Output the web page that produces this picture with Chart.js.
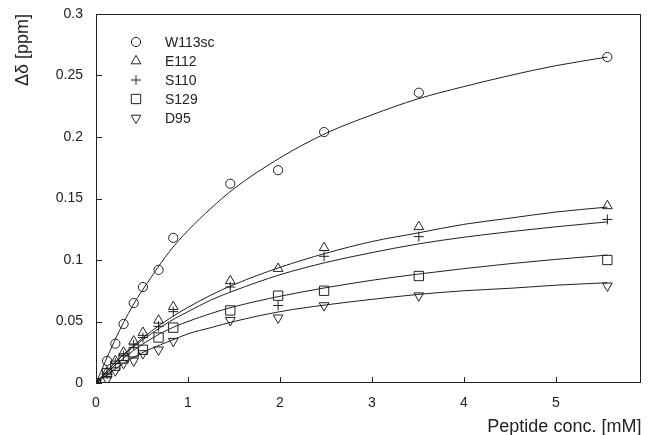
<!DOCTYPE html>
<html>
<head>
<meta charset="utf-8">
<script src="https://cdn.jsdelivr.net/npm/chart.js@4.4.0/dist/chart.umd.min.js"></script>
<style>
  html, body { margin: 0; padding: 0; background: #fff; }
  #wrap { width: 649px; height: 435px; }
</style>
</head>
<body>
<div id="wrap"><canvas id="titration" width="649" height="435"></canvas></div>
<script>
const peptideConc = [0, 0.12, 0.21, 0.30, 0.41, 0.51, 0.68, 0.84, 1.46, 1.98, 2.48, 3.51, 5.56];
const w113sc = [0, 0.018, 0.032, 0.048, 0.065, 0.078, 0.092, 0.118, 0.162, 0.173, 0.204, 0.236, 0.265];
const e112   = [0, 0.009, 0.018, 0.025, 0.034, 0.041, 0.051, 0.062, 0.083, 0.093, 0.110, 0.127, 0.144];
const s110   = [0, 0.008, 0.016, 0.022, 0.031, 0.037, 0.046, 0.058, 0.078, 0.063, 0.103, 0.119, 0.133];
const s129   = [0, 0.008, 0.014, 0.020, 0.025, 0.027, 0.037, 0.045, 0.059, 0.071, 0.075, 0.087, 0.100];
const d95    = [0, 0.003, 0.010, 0.016, 0.018, 0.024, 0.027, 0.034, 0.051, 0.053, 0.063, 0.071, 0.079];

// fitted curves
const fitConc = [0, 0.2, 0.4, 0.6, 0.8, 1.0, 1.25, 1.5, 2.0, 2.5, 3.0, 3.5, 4.0, 4.5, 5.0, 5.56];
const w113scFit = [0, 0.034, 0.063, 0.086, 0.107, 0.124, 0.142, 0.158, 0.183, 0.203, 0.218, 0.231, 0.241, 0.250, 0.258, 0.265];
const e112Fit   = [0, 0.016, 0.030, 0.042, 0.0525, 0.0615, 0.0715, 0.080, 0.094, 0.1055, 0.115, 0.122, 0.129, 0.134, 0.139, 0.143];
const s110Fit   = [0, 0.016, 0.029, 0.040, 0.050, 0.058, 0.0675, 0.075, 0.088, 0.098, 0.106, 0.113, 0.1185, 0.123, 0.127, 0.131];
const s129Fit   = [0, 0.014, 0.026, 0.036, 0.044, 0.050, 0.0565, 0.062, 0.0705, 0.0775, 0.0835, 0.0885, 0.093, 0.097, 0.1005, 0.104];
const d95Fit    = [0, 0.011, 0.0205, 0.028, 0.034, 0.040, 0.045, 0.050, 0.058, 0.0635, 0.068, 0.072, 0.075, 0.077, 0.0795, 0.0815];

const seriesNames = ["W113sc", "E112", "S110", "S129", "D95"];
const xTicks = [0, 1, 2, 3, 4, 5];
const yTicks = [0, 0.05, 0.1, 0.15, 0.2, 0.25, 0.3];
const yTickLabels = ["0", "0.05", "0.1", "0.15", "0.2", "0.25", "0.3"];

const ink = '#222';
const fontFamily = '"Liberation Sans", Arial, sans-serif';

const markerStyles = [
  { pointStyle: 'circle', radius: 4.6, rotation: 0 },
  { pointStyle: 'triangle', radius: 5.6, rotation: 0 },
  { pointStyle: 'cross', radius: 5, rotation: 0 },
  { pointStyle: 'rect', radius: 6.6, rotation: 0 },
  { pointStyle: 'triangle', radius: 5.6, rotation: 180 },
];

function pairUp(xs, ys) {
  return xs.map((x, i) => ({ x: x, y: ys[i] }));
}

const measured = [w113sc, e112, s110, s129, d95];
const fitted = [w113scFit, e112Fit, s110Fit, s129Fit, d95Fit];

const datasets = [];
fitted.forEach((vals, i) => {
  datasets.push({
    label: seriesNames[i] + ' fit',
    data: pairUp(fitConc, vals),
    showLine: true,
    borderColor: ink,
    borderWidth: 1,
    pointRadius: 0,
    cubicInterpolationMode: 'monotone',
    fill: false
  });
});
measured.forEach((vals, i) => {
  const m = markerStyles[i];
  datasets.push({
    label: seriesNames[i],
    data: pairUp(peptideConc, vals),
    showLine: false,
    pointStyle: m.pointStyle,
    pointRadius: m.radius,
    pointHoverRadius: m.radius,
    pointRotation: m.rotation,
    borderColor: ink,
    backgroundColor: 'rgba(0,0,0,0)',
    borderWidth: 1
  });
});

// box round the plot plus inward tick marks
const framePlugin = {
  id: 'frame',
  afterDatasetsDraw(chart) {
    const { ctx, chartArea: a, scales } = chart;
    ctx.save();
    ctx.strokeStyle = ink;
    ctx.lineWidth = 1;
    ctx.strokeRect(Math.round(a.left) + 0.5, Math.round(a.top) + 0.5,
      Math.round(a.right - a.left) - 1, Math.round(a.bottom - a.top) - 1);
    ctx.beginPath();
    yTicks.forEach(v => {
      const py = Math.round(scales.y.getPixelForValue(v)) + 0.5;
      ctx.moveTo(a.left, py);
      ctx.lineTo(a.left + 6, py);
    });
    xTicks.forEach(v => {
      const px = Math.round(scales.x.getPixelForValue(v)) + 0.5;
      ctx.moveTo(px, a.bottom);
      ctx.lineTo(px, a.bottom - 6);
    });
    ctx.stroke();
    ctx.restore();
  }
};

// legend inside the plot, top left
const legendPlugin = {
  id: 'insideLegend',
  afterDraw(chart) {
    const { ctx, chartArea: a } = chart;
    ctx.save();
    ctx.font = '14px ' + fontFamily;
    ctx.textBaseline = 'middle';
    seriesNames.forEach((name, i) => {
      const cy = a.top + 28 + i * 19;
      const cx = a.left + 40;
      const m = markerStyles[i];
      ctx.strokeStyle = ink;
      ctx.fillStyle = 'rgba(0,0,0,0)';
      ctx.lineWidth = 1;
      Chart.helpers.drawPoint(ctx, {
        pointStyle: m.pointStyle, radius: m.radius, rotation: m.rotation, borderWidth: 1
      }, cx, cy);
      ctx.fillStyle = ink;
      ctx.fillText(name, a.left + 69, cy + 1);
    });
    ctx.restore();
  }
};

new Chart(document.getElementById('titration'), {
  type: 'scatter',
  data: { datasets: datasets },
  options: {
    responsive: false,
    animation: false,
    layout: { padding: { top: 14, right: 3, left: 0, bottom: 0 } },
    plugins: {
      legend: { display: false },
      tooltip: { enabled: false }
    },
    scales: {
      x: {
        type: 'linear',
        min: 0,
        max: 5.93,
        afterBuildTicks: s => { s.ticks = xTicks.map(v => ({ value: v })); },
        afterFit: s => { s.height = 52; s.paddingLeft = 0; s.paddingRight = 0; },
        grid: { display: false, drawTicks: false },
        border: { display: false },
        ticks: {
          padding: 12,
          color: ink,
          font: { family: fontFamily, size: 14 },
          callback: v => String(v)
        },
        title: {
          display: true,
          text: 'Peptide conc. [mM]',
          align: 'end',
          color: ink,
          font: { family: fontFamily, size: 18, lineHeight: 0.9 },
          padding: { top: 0, bottom: 0 }
        }
      },
      y: {
        type: 'linear',
        min: 0,
        max: 0.3,
        afterBuildTicks: s => { s.ticks = yTicks.map(v => ({ value: v })); },
        afterFit: s => { s.width = 96; s.paddingTop = 0; s.paddingBottom = 0; },
        grid: { display: false, drawTicks: false },
        border: { display: false },
        ticks: {
          padding: 13,
          color: ink,
          font: { family: fontFamily, size: 14 },
          callback: (v, i) => yTickLabels[i]
        },
        title: {
          display: true,
          text: 'Δδ [ppm]',
          align: 'end',
          color: ink,
          font: { family: fontFamily, size: 18, lineHeight: 1.2 },
          padding: { top: 12, bottom: 0 }
        }
      }
    }
  },
  plugins: [framePlugin, legendPlugin]
});
</script>
</body>
</html>
